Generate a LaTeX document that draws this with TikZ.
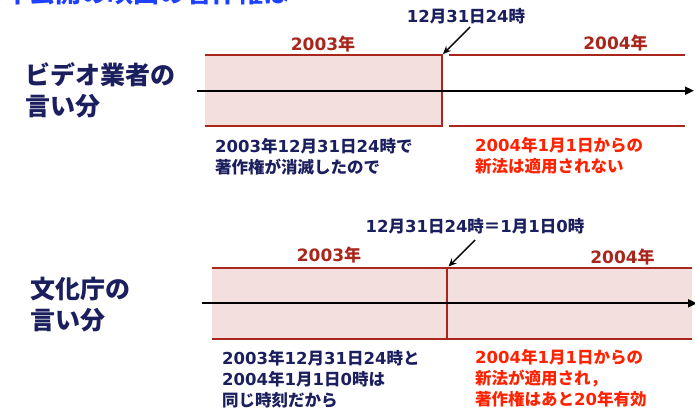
\documentclass[tikz,border=0pt]{standalone}
\usepackage{fontspec}
\setmainfont{Noto Sans CJK JP}
\newfontfamily\dvfont{DejaVu Sans}
\newcommand\dg[1]{{\dvfont #1}}
\usetikzlibrary{arrows.meta}
\definecolor{navy}{HTML}{1B1F5E}
\definecolor{dred}{HTML}{A8261C}
\definecolor{pinkf}{HTML}{F2DFDE}
\definecolor{rtext}{HTML}{FF2200}
\definecolor{hblue}{HTML}{1E40FF}
\tikzset{
  yearlbl/.style={text=dred, font=\fontsize{17}{17}\selectfont\bfseries, inner sep=0pt},
  cutlbl/.style={text=navy, font=\fontsize{16.5}{17}\selectfont\bfseries, inner sep=0pt},
  sidelbl/.style={text=navy, font=\fontsize{25}{31}\selectfont\bfseries, align=left, anchor=west, inner sep=0pt},
  expl/.style={text=navy, font=\fontsize{16.5}{21}\selectfont\bfseries, align=left, anchor=west, inner sep=0pt},
  redexpl/.style={expl, text=rtext},
  border/.style={draw=dred, line width=2pt},
  timeline/.style={draw=black, line width=1.8pt, -{Triangle[length=9pt,width=8pt]}},
  pointer/.style={draw=black, line width=1.4pt, -{Stealth[length=8pt,width=7pt]}},
  headlbl/.style={text=hblue, font=\fontsize{26}{26}\selectfont\bfseries, inner sep=0pt, anchor=base east}
}
\begin{document}
\begin{tikzpicture}[x=1pt,y=-1pt]
\useasboundingbox (0,0) rectangle (695,410);
\clip (0,0) rectangle (695,410);
% heading (cut off at the top edge, as in the reference)
\node[headlbl] (head) at (290,2) {\dg{1953}年公開の映画の著作権は};
% ---------- top diagram ----------
\fill[pinkf] (205,55) rectangle (441.5,126);
\draw[border] (205,55) -- (441.5,55) -- (441.5,126) -- (205,126);
\draw[border] (449,55) -- (685,55);
\draw[border] (449,126) -- (685,126);
\coordinate (t1s) at (197,90.7);
\coordinate (t1e) at (694,90.7);
\draw[timeline] (t1s) -- (t1e);
\node[yearlbl] (y03a) at (323,44) {\dg{2003}年};
\node[yearlbl] (y04a) at (615.5,43) {\dg{2004}年};
\node[cutlbl] (cut1) at (466,16) {\dg{12}月\dg{31}日\dg{24}時};
\coordinate (p1s) at (470,27);
\coordinate (p1e) at (443,54);
\draw[pointer] (p1s) -- (p1e);
\node[sidelbl] (side1) at (25,90.5) {ビデオ業者の\\言い分};
\node[expl] (ex1) at (215,156.5) {\dg{2003}年\dg{12}月\dg{31}日\dg{24}時で\\著作権が消滅したので};
\node[redexpl] (rx1) at (475,155.3) {\dg{2004}年\dg{1}月\dg{1}日からの\\新法は適用されない};
% ---------- bottom diagram ----------
\fill[pinkf] (212,268) rectangle (692,339);
\draw[border] (212,268) -- (692,268);
\draw[border] (212,339) -- (692,339);
\draw[border] (447.3,268) -- (447.3,339);
\coordinate (t2s) at (202,303.3);
\coordinate (t2e) at (697,303.3);
\draw[timeline] (t2s) -- (t2e);
\node[yearlbl] (y03b) at (329,255) {\dg{2003}年};
\node[yearlbl] (y04b) at (622.5,256.7) {\dg{2004}年};
\node[cutlbl] (cut2) at (475,226) {\dg{12}月\dg{31}日\dg{24}時＝\dg{1}月\dg{1}日\dg{0}時};
\coordinate (p2s) at (475,240);
\coordinate (p2e) at (448.5,266.5);
\draw[pointer] (p2s) -- (p2e);
\node[sidelbl] (side2) at (30,305) {文化庁の\\言い分};
\node[expl] (ex2) at (222,379) {\dg{2003}年\dg{12}月\dg{31}日\dg{24}時と\\\dg{2004}年\dg{1}月\dg{1}日\dg{0}時は\\同じ時刻だから};
\node[redexpl] (rx2) at (475,378.3) {\dg{2004}年\dg{1}月\dg{1}日からの\\新法が適用され，\\著作権はあと\dg{20}年有効};
\end{tikzpicture}
\end{document}
